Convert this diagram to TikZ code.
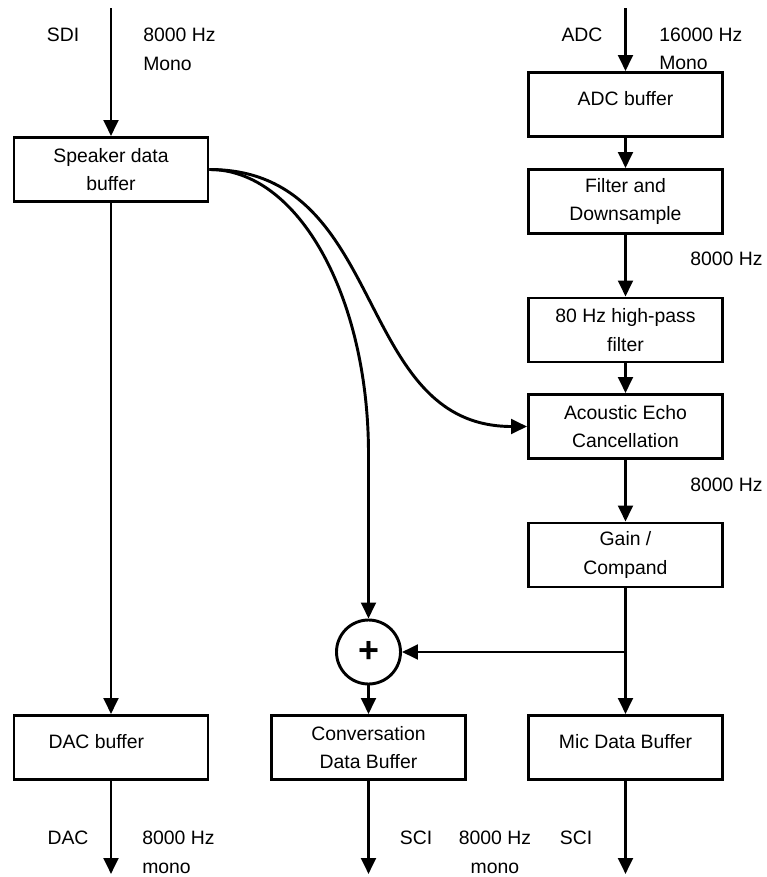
\documentclass[tikz,border=0pt]{standalone}
\usepackage{fontspec}
\setmainfont{Liberation Sans}
\usepackage{tikz}
\usetikzlibrary{arrows.meta,positioning}
\tikzstyle{block} = [rectangle, draw, line width=2.2pt, minimum width=145.5bp, minimum height=48bp, align=center]
\tikzstyle{sumnode} = [circle, draw, line width=2.2pt, minimum size=48bp, inner sep=0pt, font=\fontsize{27}{27}\selectfont\bfseries]
\tikzstyle{arrow} = [line width=2.2pt, -{Triangle[length=12bp,width=11bp]}]
\tikzstyle{lbl} = [inner sep=0pt]

\begin{document}
\begin{tikzpicture}[x=0.75bp, y=-0.75bp, font=\fontsize{14.6}{21.7}\selectfont]
    \useasboundingbox (0,0) rectangle (767,877);

    % Speaker path
    \node[block] (spk) at (111,169.5) {Speaker data\\buffer};
    \node[block] (dac) at (111,747.5) {\raisebox{9bp}{DAC buffer\hspace*{22bp}}};

    % Microphone path
    \node[block] (adcbuf) at (625.5,104.5) {\raisebox{9bp}{ADC buffer}};
    \node[block] (filt) at (625.5,201.5) {Filter and\\Downsample};
    \node[block] (hpf) at (625.5,330) {80 Hz high-pass\\filter};
    \node[block] (aec) at (625.5,426.5) {Acoustic Echo\\Cancellation};
    \node[block] (gain) at (625.5,555) {Gain /\\Compand};
    \node[block] (mic) at (625.5,747.5) {\raisebox{9bp}{Mic Data Buffer}};

    % Mixing
    \node[sumnode] (sum) at (368.5,652) {+};
    \node[block] (conv) at (368.5,747.5) {Conversation\\Data Buffer};

    % Free ends
    \coordinate (insdi) at (111,8);
    \coordinate (inadc) at (625.5,8);
    \coordinate (outdac) at (111,874);
    \coordinate (outconv) at (368.5,874);
    \coordinate (outmic) at (625.5,874);
    \coordinate (bend) at (368.5,454);
    \coordinate (tap) at (gain.south |- sum);

    % Arrows
    \draw[arrow] (insdi) -- (spk);
    \draw[arrow] (spk) -- (dac);
    \draw[arrow] (inadc) -- (adcbuf);
    \draw[arrow] (adcbuf) -- (filt);
    \draw[arrow] (filt) -- (hpf);
    \draw[arrow] (hpf) -- (aec);
    \draw[arrow] (aec) -- (gain);
    \draw[arrow] (gain) -- (mic);
    \draw[arrow] (tap) -- (sum);
    \draw[arrow] (sum) -- (conv);
    \draw[arrow] (spk.east) .. controls +(89,0) and +(0,-157) .. (bend) -- (sum);
    \draw[arrow] (spk.east) .. controls +(180,0) and +(-175,0) .. (aec.west);
    \draw[arrow] (dac) -- (outdac);
    \draw[arrow] (conv) -- (outconv);
    \draw[arrow] (mic) -- (outmic);

    % Labels
    \node[lbl] (sdi) at (63,35) {SDI};
    \node[lbl, anchor=west] (sdirate) at (143,35) {8000 Hz};
    \node[lbl, anchor=west] (sdimono) at (143,64) {Mono};
    \node[lbl] (adc) at (582,35) {ADC};
    \node[lbl, anchor=west] (adcrate) at (659,35) {16000 Hz};
    \node[lbl, anchor=west] (adcmono) at (659,63) {Mono};
    \node[lbl, anchor=west] (filtrate) at (690,259) {8000 Hz};
    \node[lbl, anchor=west] (aecrate) at (690,485) {8000 Hz};
    \node[lbl] (dacout) at (68,838) {DAC};
    \node[lbl, anchor=west] (dacrate) at (142,838) {8000 Hz};
    \node[lbl, anchor=west] (dacmono) at (142,868) {mono};
    \node[lbl] (sciconv) at (416,838) {SCI};
    \node[lbl] (scirate) at (495,838) {8000 Hz};
    \node[lbl] (scimono) at (495,868) {mono};
    \node[lbl] (scimic) at (576,838) {SCI};
\end{tikzpicture}
\end{document}
